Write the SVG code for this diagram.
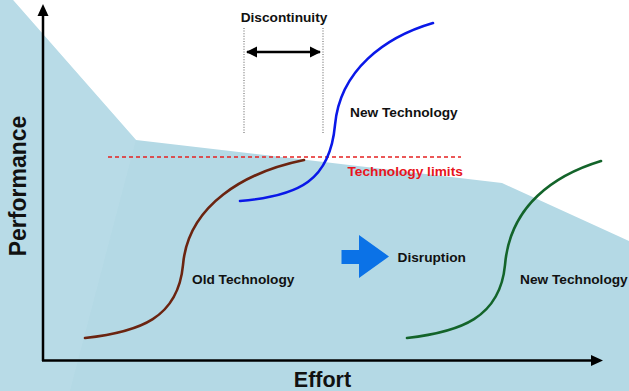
<svg xmlns="http://www.w3.org/2000/svg" width="629" height="391" viewBox="0 0 629 391">
<style>
.lbl{font-family:"Liberation Sans",Arial,sans-serif;font-weight:bold;font-size:13.7px;fill:#111}
.axl{font-family:"Liberation Sans",Arial,sans-serif;font-weight:bold;fill:#111}
.axis{stroke:#000;stroke-width:2.5;fill:none}
.dot{stroke:#777;stroke-width:1.2;stroke-dasharray:1 1.6;fill:none}
.curve{fill:none;stroke-width:2.6;stroke-linecap:round}
</style>
<defs>
<marker id="ah" viewBox="0 0 10 10" refX="9" refY="5" markerWidth="4.5" markerHeight="4.5" orient="auto-start-reverse" markerUnits="strokeWidth">
<path d="M0,0 L10,5 L0,10 Z" fill="#000"/>
</marker>
</defs>
<g id="background">
<rect x="0" y="0" width="629" height="391" fill="#ffffff"/>
<polygon points="0,0 13,0 136,140 502,183 629,241 629,391 0,391" fill="#b4d9e5"/>
<polygon points="0,0 13,0 136,140 70,391 0,391" fill="#bcdee9" opacity="0.45"/>
</g>
<g id="axes">
<line x1="43" y1="361" x2="43" y2="14" class="axis"/>
<polygon points="43,4 37.5,16 48.5,16" fill="#000"/>
<line x1="42" y1="360.5" x2="593" y2="360.5" class="axis"/>
<polygon points="603,360.5 591,355 591,366" fill="#000"/>
<text class="axl" font-size="23" text-anchor="middle" transform="translate(26,186) rotate(-90)">Performance</text>
<text class="axl" x="322.5" y="387" font-size="21.5" text-anchor="middle">Effort</text>
</g>
<g id="limits">
<line x1="108" y1="157" x2="461" y2="157" stroke="#e52222" stroke-width="1.5" stroke-dasharray="4 3"/>
<text class="lbl" x="347.5" y="176" style="fill:#e8141c">Technology limits</text>
</g>
<g id="discontinuity">
<line x1="244" y1="28" x2="244" y2="134" class="dot"/>
<line x1="323" y1="28" x2="323" y2="134" class="dot"/>
<line x1="247" y1="52" x2="320" y2="52" stroke="#000" stroke-width="2.5" marker-start="url(#ah)" marker-end="url(#ah)"/>
<text class="lbl" x="284" y="22" text-anchor="middle">Discontinuity</text>
</g>
<g id="old-technology">
<path class="curve" stroke="#6b2410" d="M85,338 C140,332 178,318 183,265 C188,205 245,172 304,160"/>
<text class="lbl" x="192" y="284">Old Technology</text>
</g>
<g id="new-technology-1">
<path class="curve" stroke="#0a18e8" d="M240,201 C300,196 330,180 335,125 C340,70 385,37 433,23"/>
<text class="lbl" x="350" y="117">New Technology</text>
</g>
<g id="disruption">
<polygon points="341.5,250 359,250 359,235 389,256.5 359,278 359,264 341.5,264" fill="#0b72e7"/>
<text class="lbl" x="397.5" y="262">Disruption</text>
</g>
<g id="new-technology-2">
<path class="curve" stroke="#13642a" d="M407,338 C460,332 500,318 505,265 C510,205 555,175 601,161"/>
<text class="lbl" x="520" y="284">New Technology</text>
</g>
</svg>
